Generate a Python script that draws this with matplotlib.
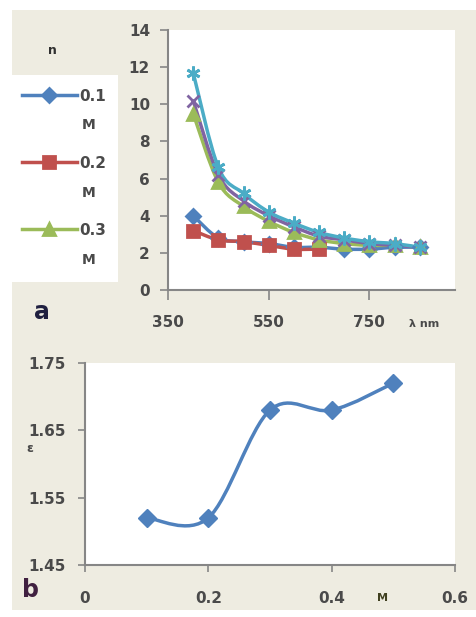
import numpy as np
import matplotlib
matplotlib.use('Agg')
import matplotlib.pyplot as plt
from matplotlib.path import Path
from matplotlib.patches import PathPatch, Rectangle
from matplotlib.lines import Line2D

# data
wavelength = [400, 450, 500, 550, 600, 650, 700, 750, 800, 850]
n_01 = [4.0, 2.8, 2.6, 2.5, 2.3, 2.3, 2.2, 2.2, 2.3, 2.3]
n_02 = [3.2, 2.7, 2.6, 2.4, 2.2, 2.2]
n_03 = [9.5, 5.8, 4.5, 3.7, 3.1, 2.7, 2.5, 2.4, 2.4, 2.3]
n_04 = [10.2, 6.2, 4.8, 4.0, 3.4, 2.9, 2.7, 2.5, 2.4, 2.3]
n_05 = [11.7, 6.6, 5.2, 4.2, 3.6, 3.1, 2.8, 2.6, 2.5, 2.3]
series_labels = ['0.1', '0.2', '0.3', '0.4', '0.5']

conc = [0.1, 0.2, 0.3, 0.4, 0.5]
eps = [1.52, 1.52, 1.68, 1.68, 1.72]

BG = '#EEECE1'
TXT = '#4a4a4a'
AX = '#868686'
colors = ['#4F81BD', '#C0504D', '#9BBB59', '#8064A2', '#4BACC6']
markers = ['D', 's', '^', 'x', (6, 2, 0)]
msizes = [7, 9, 8, 8, 10]


def smooth_path(xs, ys, t=1/6.0):
    # Excel-like smoothed line (Catmull-Rom -> cubic bezier)
    pts = np.column_stack([xs, ys]).astype(float)
    n = len(pts)
    verts = [pts[0]]
    codes = [Path.MOVETO]
    for i in range(n - 1):
        p0 = pts[i - 1] if i > 0 else pts[i]
        p1 = pts[i]
        p2 = pts[i + 1]
        p3 = pts[i + 2] if i + 2 < n else pts[i + 1]
        verts += [p1 + (p2 - p0) * t, p2 - (p3 - p1) * t, p2]
        codes += [Path.CURVE4] * 3
    return Path(verts, codes)


def style_axes(ax):
    ax.set_facecolor('white')
    for s in ['top', 'right']:
        ax.spines[s].set_visible(False)
    for s in ['left', 'bottom']:
        ax.spines[s].set_color(AX)
        ax.spines[s].set_linewidth(1.5)
    ax.tick_params(colors=AX, labelcolor=TXT, labelsize=11, width=1.2)
    for lab in ax.get_xticklabels() + ax.get_yticklabels():
        lab.set_fontweight('bold')


fig = plt.figure(figsize=(4.76, 6.17), dpi=100, facecolor='white')
fig.patches.append(Rectangle((12 / 476, 1 - 610 / 617), 464 / 476, 600 / 617,
                             transform=fig.transFigure, facecolor=BG,
                             edgecolor='none', zorder=-10))
fig.patches.append(Rectangle((12 / 476, 1 - 282 / 617), 106 / 476, 207 / 617,
                             transform=fig.transFigure, facecolor='white',
                             edgecolor='none', zorder=-9))

# ---- panel a ----
ax1 = fig.add_axes([168 / 476, 1 - 290 / 617, 287 / 476, 260 / 617])
ax1.set_xlim(350, 920)
ax1.set_ylim(0, 14)
ax1.set_xticks([350, 550, 750])
ax1.set_yticks(range(0, 15, 2))
style_axes(ax1)
ax1.tick_params(axis='x', length=7, pad=11)
ax1.tick_params(axis='y', length=6, pad=7)

handles = []
for ys, c, m, ms, lab in zip([n_01, n_02, n_03, n_04, n_05], colors, markers,
                             msizes, series_labels):
    xs = wavelength[:len(ys)]
    ax1.add_patch(PathPatch(smooth_path(xs, ys), facecolor='none',
                            edgecolor=c, lw=2.5, zorder=2))
    ax1.plot(xs, ys, ls='none', marker=m, ms=ms, color=c, mec=c, mew=2, zorder=3)
    handles.append(Line2D([], [], color=c, lw=2.5, marker=m, ms=ms, mew=2, label=lab))

leg = fig.legend(handles=handles[:3], loc='upper left',
                 bbox_to_anchor=(14 / 476, 1 - 81 / 617), frameon=False,
                 prop={'size': 11, 'weight': 'bold'}, handlelength=3.6,
                 handletextpad=0.15, labelspacing=3.4, labelcolor=TXT,
                 borderpad=0)
for yy in [125, 193, 260]:
    fig.text(89 / 476, 1 - yy / 617, 'M', fontsize=10, fontweight='bold',
             color=TXT, ha='center', va='center')

fig.text(52 / 476, 1 - 50 / 617, 'n', fontsize=9, fontweight='bold',
         color='#303030', ha='center', va='center')
fig.text(42 / 476, 1 - 312 / 617, 'a', fontsize=17, fontweight='bold',
         color='#202040', ha='center', va='center')
fig.text(424 / 476, 1 - 324 / 617, 'λ nm', fontsize=8, fontweight='bold',
         color=TXT, ha='center', va='center')

# ---- panel b ----
ax2 = fig.add_axes([85 / 476, 1 - 565 / 617, 370 / 476, 202 / 617])
ax2.set_xlim(0, 0.6)
ax2.set_ylim(1.45, 1.75)
ax2.set_xticks([0, 0.2, 0.4, 0.6])
ax2.set_xticklabels(['0', '0.2', '0.4', '0.6'])
ax2.set_yticks([1.45, 1.55, 1.65, 1.75])
style_axes(ax2)
ax2.tick_params(axis='x', length=5, pad=14)
ax2.tick_params(axis='y', length=5, pad=9)
ax2.add_patch(PathPatch(smooth_path(conc, eps), facecolor='none',
                        edgecolor=colors[0], lw=2.5, zorder=2))
ax2.plot(conc, eps, ls='none', marker='D', ms=9, color=colors[0], zorder=3)

fig.text(30 / 476, 1 - 448 / 617, 'ε', fontsize=9, fontweight='bold',
         color=TXT, ha='center', va='center')
fig.text(30 / 476, 1 - 590 / 617, 'b', fontsize=17, fontweight='bold',
         color='#402040', ha='center', va='center')
fig.text(383 / 476, 1 - 598 / 617, 'M', fontsize=8, fontweight='bold',
         color='#404020', ha='center', va='center')

fig.savefig('out.png', dpi=100, facecolor=fig.get_facecolor())
